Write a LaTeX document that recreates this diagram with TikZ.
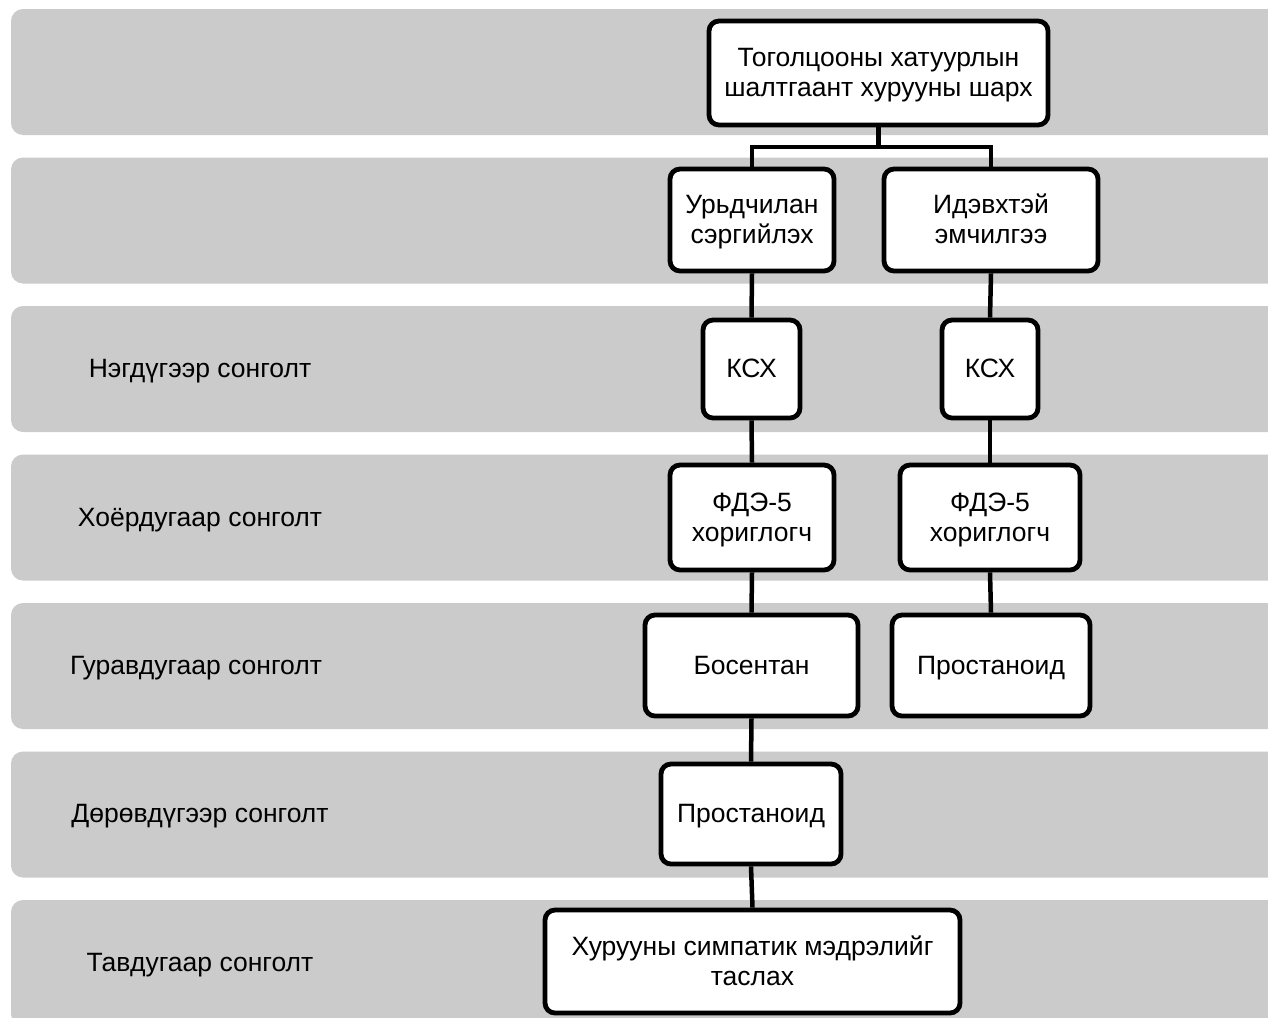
\documentclass[tikz,border=0pt]{standalone}
\usepackage{fontspec}
\setmainfont{Liberation Sans}
\definecolor{bandgray}{RGB}{203,203,203}
\newcommand{\sT}{\rule[-6.5pt]{0pt}{30pt}}
\begin{document}
\begin{tikzpicture}[x=1pt,y=-1pt,
  band/.style={fill=bandgray,draw=none,rounded corners=12pt},
  box/.style={draw=black,fill=white,line width=4.8pt,rounded corners=10pt,align=center,font=\fontsize{26.5}{30}\selectfont,inner sep=0pt},
  lbl/.style={font=\fontsize{26.5}{30}\selectfont,anchor=center},
  conn/.style={draw=black,line width=4.5pt}]
\clip (0,0) rectangle (1268,1017);
\fill[white] (0,0) rectangle (1268,1017);
% bands
\foreach \i in {0,...,6}{
  \path[band] (11,{9+148.5*\i}) rectangle (1300,{135+148.5*\i});
}
% boxes
\node[box,minimum width=339,minimum height=104] (top) at (878.5,73) {\sT Тоголцооны хатуурлын\\\sT шалтгаант хурууны шарх};
\node[box,minimum width=164,minimum height=102] (prev) at (752,220) {\sT Урьдчилан\\\sT сэргийлэх};
\node[box,minimum width=214,minimum height=102] (act) at (991,220) {\sT Идэвхтэй\\\sT эмчилгээ};
\node[box,minimum width=97,minimum height=98] (k1) at (751.5,369) {\sT КСХ};
\node[box,minimum width=96,minimum height=98] (k2) at (990,369) {\sT КСХ};
\node[box,minimum width=164,minimum height=105] (f1) at (752,517.5) {\sT ФДЭ-5\\\sT хориглогч};
\node[box,minimum width=180,minimum height=105] (f2) at (990,517.5) {\sT ФДЭ-5\\\sT хориглогч};
\node[box,minimum width=213,minimum height=101] (b1) at (751.5,665.5) {\sT Босентан};
\node[box,minimum width=198,minimum height=101] (p2) at (991,665.5) {\sT Простаноид};
\node[box,minimum width=180,minimum height=100] (p1) at (751,814) {\sT Простаноид};
\node[box,minimum width=415,minimum height=103] (s1) at (752.5,961.5) {\sT Хурууны симпатик мэдрэлийг\\\sT таслах};
% labels
\node[lbl] (l1) at (200,369) {\sT Нэгдүгээр сонголт};
\node[lbl] (l2) at (200,517.5) {\sT Хоёрдугаар сонголт};
\node[lbl] (l3) at (196,666) {\sT Гуравдугаар сонголт};
\node[lbl] (l4) at (200,814) {\sT Дөрөвдүгээр сонголт};
\node[lbl] (l5) at (200,963) {\sT Тавдугаар сонголт};
% connectors
\coordinate (j) at (878.5,147);
\draw[conn] (top.south) -- (j);
\draw[conn] (prev.north) |- (j) -| (act.north);
\draw[conn] (prev.south) -- (k1.north);
\draw[conn] (k1.south) -- (f1.north);
\draw[conn] (f1.south) -- (b1.north);
\draw[conn] (b1.south) -- (p1.north);
\draw[conn] (p1.south) -- (s1.north);
\draw[conn] (act.south) -- (k2.north);
\draw[conn] (k2.south) -- (f2.north);
\draw[conn] (f2.south) -- (p2.north);
\end{tikzpicture}
\end{document}
